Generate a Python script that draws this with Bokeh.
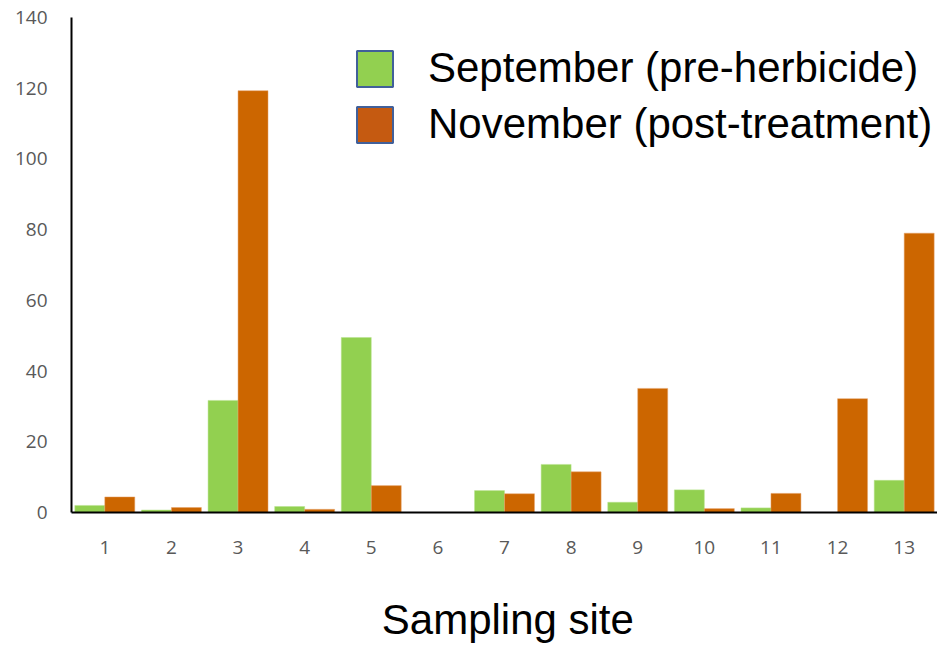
from bokeh.plotting import figure
from bokeh.models import ColumnDataSource, Legend, LegendItem, FixedTicker, Range1d, Label
from bokeh.embed import file_html
from bokeh.resources import INLINE

sites = list(range(1, 14))
september = [2.0, 0.7, 31.7, 1.7, 49.5, 0.0, 6.2, 13.6, 2.9, 6.4, 1.3, 0.0, 9.1]
november = [4.4, 1.4, 119.3, 0.9, 7.6, 0.0, 5.3, 11.5, 35.1, 1.1, 5.4, 32.2, 79.0]
series_names = ["September (pre-herbicide)", "November (post-treatment)"]
y_ticks = [0, 20, 40, 60, 80, 100, 120, 140]
x_title = "Sampling site"

GREEN = "#92D050"
ORANGE = "#CC6600"

src = ColumnDataSource(dict(
    xs=[s - 0.225 for s in sites],
    xn=[s + 0.225 for s in sites],
    sep=september, nov=november))

# frame runs to the bottom of the canvas; y=0 sits at pixel 512
p = figure(width=937, height=646, output_backend="svg", toolbar_location=None,
           x_range=Range1d(0.5, 13.5), y_range=Range1d(-37.9, 140),
           min_border_left=71, min_border_right=0, min_border_top=17, min_border_bottom=0)
p.outline_line_color = None
p.xgrid.visible = False
p.ygrid.visible = False

p.vbar(x="xs", top="sep", width=0.45, source=src, fill_color=GREEN, line_color="#b9e28f", line_width=0.5)
p.vbar(x="xn", top="nov", width=0.45, source=src, fill_color=ORANGE, line_color="#e6a36a", line_width=0.5)

# legend proxies (placed outside the visible range)
proxy = ColumnDataSource(dict(x=[-100], top=[0]))
r1 = p.vbar(x="x", top="top", width=0.45, source=proxy, fill_color=GREEN, line_color="#41609a", line_width=2)
r2 = p.vbar(x="x", top="top", width=0.45, source=proxy, fill_color="#C55A11", line_color="#41609a", line_width=2)
legend = Legend(items=[LegendItem(label=series_names[0], renderers=[r1]),
                       LegendItem(label=series_names[1], renderers=[r2])],
                orientation="vertical",
                glyph_width=45, glyph_height=45, label_standoff=31, spacing=8,
                padding=0, margin=0, border_line_color=None, background_fill_alpha=0,
                label_text_font="Liberation Sans", label_text_font_size="42px",
                label_text_color="black")
legend.location = (281, 498)
p.add_layout(legend, "center")

p.xaxis.ticker = FixedTicker(ticks=sites)
p.xaxis.fixed_location = 0
p.yaxis.ticker = FixedTicker(ticks=y_ticks)
p.yaxis.bounds = (0, 140)
for ax in (p.xaxis, p.yaxis):
    ax.major_tick_line_color = None
    ax.minor_tick_line_color = None
    ax.axis_line_color = "black"
    ax.axis_line_width = 2
    ax.major_label_text_font = "Open Sans"
    ax.major_label_text_font_size = "19px"
    ax.major_label_text_color = "#595959"
p.yaxis.major_label_standoff = 18
p.xaxis.major_label_standoff = 23

title = Label(x=7.05, y=-30.2, text=x_title, text_align="center", text_baseline="middle",
              text_font="Liberation Sans", text_font_size="42px", text_color="black")
p.add_layout(title)

open("out.html", "w").write(file_html(p, INLINE))
